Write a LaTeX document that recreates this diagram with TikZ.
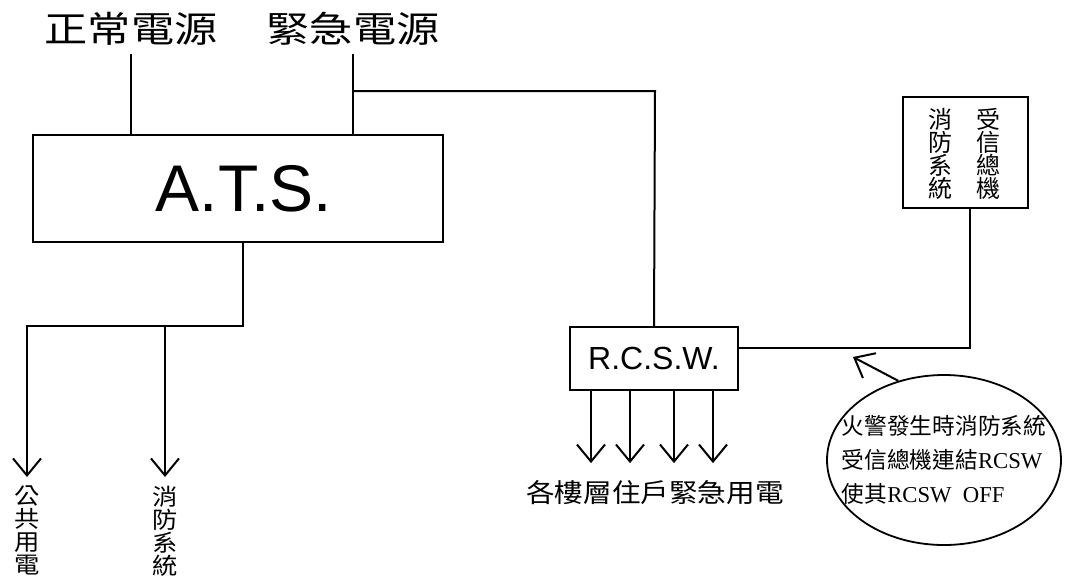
\documentclass[tikz,border=0pt]{standalone}
\usepackage{fontspec}
\setmainfont{Liberation Serif}
\newfontfamily\cjk{Noto Sans CJK TC}
\newfontfamily\cjkmid[FakeStretch=1.1]{Noto Sans CJK TC}
\newfontfamily\cjkwide[FakeStretch=1.2]{Noto Sans CJK TC}
\newfontfamily\atsfont{Liberation Sans}
\usetikzlibrary{arrows.meta,shapes.geometric}
\tikzset{
    wire/.style={line width=2pt},
    barb/.style={wire,-{Straight Barb[length=17pt,width=28pt]}},
    unitbox/.style={draw,line width=2.2pt,inner sep=0pt},
    source/.style={inner xsep=0pt,inner ysep=8pt,font=\cjkwide\fontsize{36}{36}\selectfont},
    column/.style={align=center,inner sep=0pt,font=\cjk\fontsize{24}{23}\selectfont},
    downlabel/.style={anchor=north,align=center,inner xsep=0pt,inner ysep=9pt,font=\cjkmid\fontsize{23}{23}\selectfont}
}
\begin{document}
\begin{tikzpicture}[x=1pt,y=-1pt]
        \useasboundingbox (0,0) rectangle (1066,582);
        \node[source] (normal) at (131,29) {正常電源};
        \node[source] (emerg) at (353,29) {緊急電源};
        \node[unitbox,minimum width=410pt,minimum height=107pt,font=\atsfont\fontsize{66}{66}\selectfont] (ats) at (238,188.5) {\hspace*{12pt}A.T.S.};
        \node[unitbox,minimum width=168pt,minimum height=63pt,font=\atsfont\fontsize{32}{32}\selectfont] (rcsw) at (654,358.5) {R.C.S.W.};
        \node[unitbox,minimum width=125pt,minimum height=111pt] (recv) at (965.5,152.5) {};
        \node[column] (fireside) at (940,154) {消\\防\\系\\統};
        \node[column] (recvside) at (988,154) {受\\信\\總\\機};
        \node[draw,ellipse,line width=1.8pt,minimum width=234pt,minimum height=170pt] (note) at (944,460) {};
        \node[align=left,inner sep=0pt,font=\fontsize{22.7}{34}\selectfont] (notetext) at (note.center)
            {{\cjk 火警發生時消防系統}\\{\cjk 受信總機連結}RCSW\\{\cjk 使其}RCSW\ \ OFF};
        \node[downlabel] (pub) at (27,477) {公\\共\\用\\電};
        \node[downlabel] (fire) at (165,477) {消\\防\\系\\統};
        \node[font=\cjkmid\fontsize{26}{26}\selectfont] (floors) at (655,493) {各樓層住戶緊急用電};
        \coordinate (bus) at (243,326);
        \coordinate (tie) at (655,91);
        \coordinate (tap) at (970,348);
        \coordinate (hit) at (853,357);
        \draw[wire] (normal.south) -- (normal.south |- ats.north);
        \draw[wire] (emerg.south) -- (emerg.south |- ats.north);
        \draw[wire] (emerg.south |- tie) -- (tie) -- (rcsw.north);
        \draw[barb] (bus |- ats.south) -- (bus) -| (pub.north);
        \draw[barb] (bus -| fire.north) -- (fire.north);
        \foreach \x in {591,630,674,713}{
            \draw[barb] (rcsw.south -| \x,0) -- ++(0,72);
        }
        \draw[wire] (rcsw.east |- tap) -- (tap) -- (tap |- recv.south);
        \draw[barb] (note.120) -- (hit);
    \end{tikzpicture}
\end{document}
